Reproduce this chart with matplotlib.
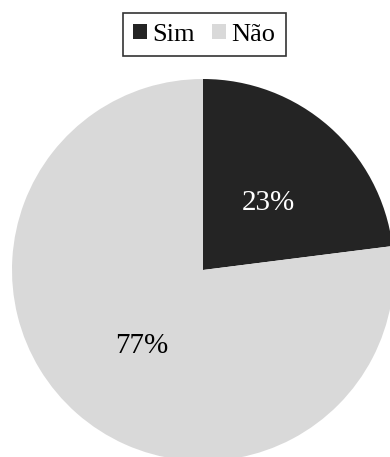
import matplotlib.pyplot as plt

# Data
labels = ['Sim', 'Não']
values = [23, 77]
colors = ['#242424', '#d9d9d9']

plt.rcParams['font.family'] = ['Liberation Serif', 'DejaVu Serif']

W, H = 390, 457
fig = plt.figure(figsize=(W / 100, H / 100), dpi=100)

# pie centre ~ (203, 270) px, radius ~191 px
cx, cy, r = 203, 270, 191
ax = fig.add_axes([(cx - r) / W, (H - cy - r) / H, 2 * r / W, 2 * r / H])

wedges, texts, autotexts = ax.pie(
    values, colors=colors, startangle=90, counterclock=False,
    autopct='%1.0f%%', pctdistance=0.5, radius=1,
    textprops={'fontsize': 21},
)
autotexts[0].set_color('white')
autotexts[1].set_color('black')
# nudge labels down a little, like the original
for t in autotexts:
    x, y = t.get_position()
    t.set_position((x + 0.01, y - 0.025))
ax.set_xlim(-1, 1)
ax.set_ylim(-1, 1)
ax.set_aspect('equal')
ax.axis('off')

leg = fig.legend(wedges, labels, loc='upper center',
                 bbox_to_anchor=(204.5 / W, 1 - 13 / H),
                 ncol=2, fontsize=19, frameon=True, fancybox=False,
                 handlelength=0.53, handleheight=0.53, handletextpad=0.2,
                 columnspacing=0.65, borderpad=0.4, borderaxespad=0)
leg.get_frame().set_edgecolor('black')
leg.get_frame().set_linewidth(1.2)

fig.savefig('out.png', dpi=100)
